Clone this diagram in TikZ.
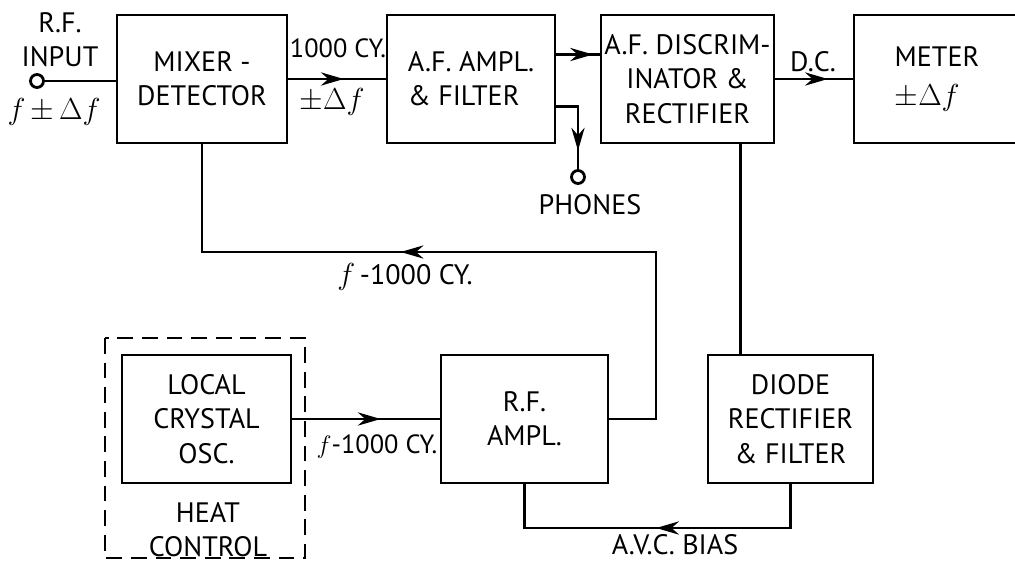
\documentclass[tikz,border=0pt]{standalone}
\usepackage{fontspec}
\setmainfont{PT Sans}
\usetikzlibrary{arrows.meta,decorations.markings}

\tikzset{
  blk/.style={draw, minimum height=2.56cm, align=center, inner sep=2pt},
  jack/.style={draw, circle, inner sep=0pt, minimum size=0.26cm},
  lbl/.style={inner sep=1pt, align=center},
  mid/.style={postaction={decorate}, decoration={markings,
      mark=at position #1 with {\arrow{Stealth[length=13pt,width=7.5pt]}}}},
  heatbox/.style={dash pattern=on 9pt off 5pt},
}

\begin{document}
\begin{tikzpicture}[x=0.02cm, y=-0.02cm, line width=1.6pt,
    font=\fontsize{16}{19.5}\selectfont]
        \useasboundingbox (0,0) rectangle (1015,565);

        % top row
        \node[blk, minimum width=3.4cm] (mixer) at (202,79) {MIXER -\\DETECTOR};
        \node[blk, minimum width=3.36cm, align=left] (afamp) at (471,79) {A.F. AMPL.\\\& FILTER};
        \node[blk, minimum width=3.38cm] (discrim) at (687.5,79) {A.F. DISCRIM-\\INATOR \&\\RECTIFIER};
        \node[blk, minimum width=3.32cm, align=left] (meter) at (937,79) {METER\\[3pt]$\pm\Delta f$};

        % bottom row
        \node[blk, minimum width=3.38cm] (osc) at (206.5,419) {LOCAL\\CRYSTAL\\OSC.};
        \node[blk, minimum width=3.34cm] (rfamp) at (524.5,419) {R.F.\\AMPL.};
        \node[blk, minimum width=3.3cm] (diode) at (790.5,419) {DIODE\\RECTIFIER\\\& FILTER};
        \draw[heatbox] (105,338) rectangle (305,558);

        % jacks
        \node[jack] (rfin) at (37,81) {};
        \node[jack] (phjack) at (578,177) {};

        \coordinate (fbR) at (656,252);
        \coordinate (fbL) at (202,252);
        \coordinate (avcL) at (524.5,528);

        % connectors
        \draw (rfin) -- (rfin -| mixer.west);
        \draw[mid=0.57] (mixer) -- (afamp);
        \draw[mid=0.85] (afamp.16) -- (afamp.16 -| discrim.west);
        \draw[mid=0.78] (afamp.-18) -| (phjack.north);
        \draw[mid=0.68] (discrim) -- (meter);
        \draw (discrim.-51) -- (discrim.-51 |- diode.north);
        \draw[mid=0.6] (osc) -- (rfamp);
        \draw[mid=0.605] (rfamp.east) -| (fbR) -- (fbL) -- (mixer.south);
        \draw[mid=0.504] (diode.south) |- (avcL) -- (rfamp.south);

        % labels
        \node[lbl] (rfinlbl) at (60,40) {R.F.\\INPUT};
        \node[lbl] (rfinf) at (54,112) {$f{\,\pm\,}\Delta f$};
        \node[lbl, font=\fontsize{15}{18}\selectfont] (cylbl) at (338,48) {1000 CY.};
        \node[lbl] (dflbl) at (332,102) {$\pm\Delta f$};
        \node[lbl] (phlbl) at (590,205) {PHONES};
        \node[lbl] (dclbl) at (813,62) {D.C.};
        \node[lbl] (fblbl) at (405,277) {$f$\,-1000 CY.};
        \node[lbl, font=\fontsize{15}{18}\selectfont] (osclbl) at (377,447) {$f$-1000 CY.};
        \node[lbl] (heatlbl) at (208,530) {HEAT\\CONTROL};
        \node[lbl] (avclbl) at (675,545) {A.V.C. BIAS};

    \end{tikzpicture}
\end{document}
